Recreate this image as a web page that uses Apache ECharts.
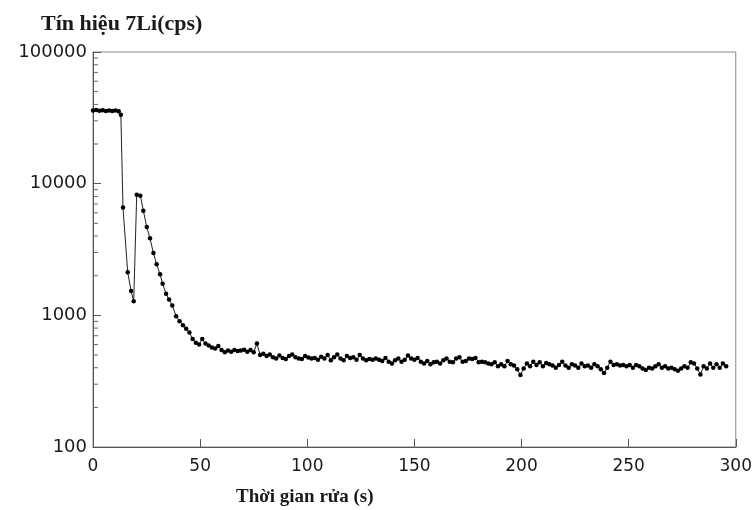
<!DOCTYPE html>
<html>
<head>
<meta charset="utf-8">
<script src="https://cdn.jsdelivr.net/npm/echarts@6/dist/echarts.min.js"></script>
<style>
html,body{margin:0;padding:0;background:#fff;}
#chart{width:755px;height:510px;}
</style>
</head>
<body>
<div id="chart"></div>
<script>
// Time (s) of each sample
var times = [0,1.5,3,4.5,6,7.5,9,10.5,12,13,14,16.2,17.8,19,20.4,22.1,23.5,25.1,26.6,28.2,29.7,31.3,32.5,34.1,35.5,37,38.8,40.4,
42,43.5,45,46.5,48,49.5,51,52.5,54,55.5,57,58.5,60,61.5,63,64.5,66,67.5,69,70.5,72,73.5,75,76.5,78,79.5,
81,82.5,84,85.5,87,88.5,90,91.5,93,94.5,96,97.5,99,100.5,102,103.5,105,106.5,108,109.5,111,112.5,114,115.5,117,118.5,
120,121.5,123,124.5,126,127.5,129,130.5,132,133.5,135,136.5,138,139.5,141,142.5,144,145.5,147,148.5,
150,151.5,153,154.5,156,157.5,159,160.5,162,163.5,165,166.5,168,169.5,171,172.5,174,175.5,177,178.5,
180,181.5,183,184.5,186,187.5,189,190.5,192,193.5,195,196.5,198,199.5,201,202.5,204,205.5,207,208.5,
210,211.5,213,214.5,216,217.5,219,220.5,222,223.5,225,226.5,228,229.5,231,232.5,234,235.5,237,238.5,
240,241.5,243,244.5,246,247.5,249,250.5,252,253.5,255,256.5,258,259.5,261,262.5,264,265.5,267,268.5,
270,271.5,273,274.5,276,277.5,279,280.5,282,283.5,285,286.5,288,289.5,291,292.5,294,295.5];

// 7Li signal (cps)
var signal = [36000,36200,35800,36100,35700,36000,35600,35900,35500,33400,6580,2120,1530,1277,8250,8100,6240,4680,3850,2970,2440,2050,1740,1460,1320,1190,983,900,
840,790,740,660,620,600,660,610,590,570,560,585,545,525,540,530,545,535,540,548,530,545,525,610,500,510,
490,505,480,470,495,475,465,490,505,480,470,465,490,478,470,475,460,485,470,500,455,480,505,470,455,490,
475,480,460,500,470,455,465,460,470,460,450,475,445,430,455,470,445,460,495,470,
460,475,445,430,450,425,440,445,430,455,470,445,440,470,480,445,450,470,465,475,
440,445,440,430,425,440,410,425,410,450,425,415,390,352,395,430,410,445,420,440,
410,435,425,415,400,420,445,415,400,425,415,400,430,410,415,400,425,410,390,365,
400,445,420,425,415,420,410,420,400,420,410,395,385,400,395,410,425,400,410,395,
400,390,380,395,410,400,440,430,395,356,410,395,430,400,425,400,430,410];

var xTicks = [0,50,100,150,200,250,300];
var yTicks = [100,1000,10000,100000];
var yMinorTicks = [200,300,400,500,600,700,800,900,2000,3000,4000,5000,6000,7000,8000,9000,20000,30000,40000,50000,60000,70000,80000,90000];

var chart = echarts.init(document.getElementById('chart'));
var pts = times.map(function(t,i){return [t, signal[i]];});

chart.setOption({
  backgroundColor:'#fff',
  animation:false,
  title:[
    {text:'Tín hiệu 7Li(cps)', left:36, top:8,
     textStyle:{fontFamily:'Liberation Serif', fontWeight:'bold', fontSize:22, color:'#1a1a1a'}},
    {text:'Thời gian rửa (s)', left:231, top:483,
     textStyle:{fontFamily:'Liberation Serif', fontWeight:'bold', fontSize:19, color:'#1a1a1a'}}
  ],
  grid:{left:93, right:18, top:52, bottom:63, show:true, borderColor:'#888', borderWidth:1, backgroundColor:'transparent'},
  xAxis:{
    type:'value', min:0, max:300, interval:50,
    axisLine:{show:true, lineStyle:{color:'#555', width:1}},
    axisTick:{show:true, inside:true, length:8, lineStyle:{color:'#555'}},
    splitLine:{show:false},
    axisLabel:{margin:11, fontFamily:'DejaVu Sans', fontSize:17, color:'#1a1a1a',
      formatter:function(v){return xTicks.indexOf(v)>=0 ? String(v) : '';}}
  },
  yAxis:{
    type:'log', logBase:10, min:100, max:100000,
    axisLine:{show:true, lineStyle:{color:'#555', width:1}},
    axisTick:{show:true, inside:true, length:8, lineStyle:{color:'#555'}},
    splitLine:{show:false},
    axisLabel:{margin:6, fontFamily:'DejaVu Sans', fontSize:18, color:'#1a1a1a',
      formatter:function(v){return yTicks.indexOf(Math.round(v))>=0 ? String(Math.round(v)) : '';}}
  },
  series:[
    {
      type:'custom', silent:true,
      data: yMinorTicks.map(function(v){return [0, v];}),
      encode:{x:0, y:1},
      renderItem:function(params, api){
        var p = api.coord([0, api.value(1)]);
        return {type:'line', shape:{x1:p[0], y1:p[1], x2:p[0]+5, y2:p[1]},
                style:{stroke:'#666', lineWidth:1}};
      }
    },
    {
      type:'line', data: pts,
      symbol:'circle', symbolSize:4.5, showSymbol:true,
      lineStyle:{color:'#222', width:1},
      itemStyle:{color:'#000'},
      clip:false
    }
  ]
});
</script>
</body>
</html>
